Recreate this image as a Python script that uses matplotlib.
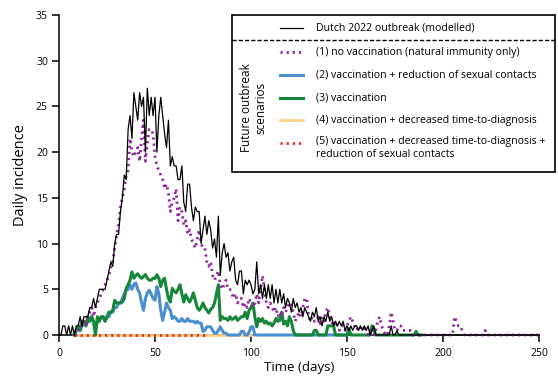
import matplotlib
matplotlib.use('Agg')
import matplotlib.pyplot as plt
from matplotlib.lines import Line2D
from matplotlib.patches import Rectangle
import numpy as np

plt.rcParams['font.family'] = ['Open Sans', 'DejaVu Sans']

# ---------------- data (daily incidence) ----------------
# Dutch 2022 outbreak (modelled), day 0 .. 250
dutch_start = 0
dutch_vals = [
    0, 0, 1, 1, 0, 1, 0, 1, 0, 1,
    1, 2, 1, 2, 2, 2, 3, 3, 4, 3,
    4, 5, 5, 5, 5, 6, 7, 8, 7.5, 10,
    11, 11, 13.5, 15, 17.5, 17, 22.5, 24, 21.5, 26.5,
    25, 23.5, 26.5, 25, 26, 20, 27, 24, 26, 24,
    26, 20, 24, 26, 24, 22, 20.5, 23.5, 18.5, 19.5,
    18.5, 18.5, 17, 17, 18.5, 14.5, 13.5, 16.5, 16.5, 14,
    12.5, 14, 13.5, 13.5, 10, 11.5, 13, 11, 12.5, 11.5,
    9.5, 10.5, 8.5, 13, 6.5, 9, 10, 8.5, 9, 7,
    8, 8.5, 6, 5.5, 7, 7, 4.5, 6, 5.5, 6,
    5.5, 4.5, 5, 8, 4.5, 5.5, 4, 5.5, 4, 5.5,
    4, 5.5, 3.5, 5, 3.5, 5, 3.5, 4.5, 3, 4,
    3.5, 2.5, 4, 3, 3.5, 2.5, 3, 2, 3, 2.5,
    2, 1.5, 2.5, 2, 3, 1.5, 2, 1, 2, 1.5,
    2.5, 1.5, 2, 1, 1.5, 1, 1.5, 1, 1.5, 0.5,
    1, 0.5, 1, 0.5, 1, 1, 0.5, 1, 0.5, 1,
    0.5, 1, 0, 0.5, 1, 0, 0, 0, 0, 0,
    0, 0, 0, 1, 0, 0, 0.5, 0, 0, 0,
] + [0] * 71

# (1) no vaccination (natural immunity only), day 8 .. 250
s1_start = 8
s1_vals = [
    0, 0,
    0.5, 1, 1, 1.5, 1, 2, 2.5, 3, 2, 3,
    3.5, 4, 4.5, 5, 5.5, 6, 6.5, 7.5, 8, 9.5,
    11, 12, 14, 15, 16, 17.5, 18, 21.5, 20, 19.5,
    20, 20.5, 19, 21.5, 23.5, 19, 21, 22.5, 22.5, 22,
    19.5, 18.5, 18, 17.5, 17, 16, 16.5, 15.5, 13.5, 14.5,
    15, 16, 12.5, 14, 13.5, 12, 12.5, 11, 11.5, 10.5,
    10, 9.5, 10.5, 11.5, 10, 9.5, 9.5, 8, 7.5, 8,
    6.5, 6, 6.5, 7, 5.5, 5, 5.5, 6, 5, 5,
    4.5, 4, 4.5, 3.5, 4, 4, 3, 3.5, 3, 4,
    3.5, 3, 3.5, 4.5, 3.5, 5, 6.5, 5, 3.5, 3,
    3.5, 3, 2.5, 3, 2, 2.5, 2, 3, 2.5, 3,
    3.5, 3.5, 2.5, 1.5, 2, 2.5, 2, 3, 4, 4,
    2, 1.5, 2, 1.5, 1.5, 2, 1, 2, 1.5, 2.5,
    3, 2, 1.5, 1, 1.5, 1, 0.5, 1, 1, 0.5,
    1, 1.5, 2, 1.5, 1, 0.5, 1, 0.5, 0.5, 1,
    0.5, 0, 0.5, 0.5, 0, 0.5, 1.5, 2, 1, 0.5,
    0, 0, 1, 2.5, 1.5, 0.5, 0.5, 1, 1, 0.5,
    0.5, 0.5, 0.5, 0.5, 0, 0, 0, 0, 0, 0,
    0, 0, 0, 0, 0, 0, 0, 0, 0, 0,
    0, 0, 0, 0, 0, 0, 2, 1.5, 1, 1,
    0.5, 0, 0, 0, 0, 0, 0, 0, 0, 0,
    0, 0, 0.5, 0, 0, 0, 0, 0, 0, 0,
] + [0] * 21

# (2) vaccination + reduction of sexual contacts, day 8 .. 150
s2_start = 8
s2_vals = [
    0, 0.5,
    1, 0.5, 1, 1.5, 1, 1.5, 1.5, 2, 1.5, 0.5,
    1.5, 1.5, 2, 2, 1.5, 2, 2, 2.5, 2.5, 3,
    3, 3.5, 3.5, 4, 4.5, 4.9, 5, 5.5, 5, 5.5,
    5.7, 5, 4.6, 3.5, 2.7, 4, 4.6, 4.9, 4.5, 4,
    3.8, 5.3, 4.5, 2.7, 1.6, 2.5, 3.5, 3, 2.7, 1.8,
    2, 1.8, 1.5, 1.5, 1.8, 1.5, 1.5, 1.8, 1.5, 1.5,
    1.5, 1.3, 1.5, 1.3, 1.3, 0.4, 0.5, 0.9, 0.9, 0.9,
    0.5, 0.2, 0.2, 0.5, 0.9, 0.5, 0.2, 0.2, 0, 0,
    0, 0, 0, 0, 0, 0.4, 0.4, 0, 0, 0.3,
    0.9, 0.9, 0, 0, 0, 0, 0, 0, 0, 0,
] + [0] * 41

# (3) vaccination, day 8 .. 190
s3_start = 8
s3_vals = [
    0, 0.5,
    1, 0.5, 1.5, 1.5, 1, 2, 1.5, 2, 1.5, 0,
    2, 1.5, 2, 2, 1.5, 2, 2.5, 2.5, 2.7, 3.8,
    3.5, 3.5, 3.5, 3.6, 4, 5.1, 5.5, 6, 6.9, 6.2,
    6.5, 6.7, 6.4, 6.2, 6.4, 6.6, 6.2, 6, 6, 6.2,
    6.2, 6.6, 6.2, 5.3, 6, 6.2, 5, 4, 3.6, 5.1,
    4.8, 4.6, 5, 5.5, 4.5, 3.6, 4.4, 4, 3.6, 4,
    4.6, 3.8, 3, 2.7, 3, 3.5, 3, 2.7, 2.4, 2.8,
    3, 3.5, 4.5, 5.5, 1.6, 2, 1.8, 1.8, 1.6, 2,
    1.7, 1.8, 2, 1.6, 1.8, 2, 2, 2.5, 1.8, 2.7,
    3, 3.5, 2, 0.9, 1.8, 1.5, 1.8, 1.3, 1.5, 1.2,
    1.3, 1, 1.3, 1.8, 1.5, 1.6, 2.5, 1.2, 1.5, 1,
    2, 1.5, 0.5, 0, 0, 0, 0, 0, 0, 0,
    0, 0, 0, 0.5, 0.5, 0, 0, 0, 0, 0,
    1, 1, 1, 1, 0, 0, 0, 0, 0, 0,
    0, 0.7, 0, 0, 0, 0, 0, 0, 0, 0,
    0, 0, 0, 1, 0.5, 0, 0, 0, 0, 0,
    0, 0, 0, 0, 0, 0, 0, 0, 0, 0,
    0, 0, 0, 0, 0, 0, 0.4, 0, 0, 0,
]

# (4) vaccination + decreased time-to-diagnosis, day 8 .. 100
s4_start = 8
s4_vals = [0] * 93

# (5) vaccination + decreased time-to-diagnosis + reduction of sexual contacts, day 8 .. 76
s5_start = 8
s5_vals = [0] * 69

legend_labels = [
    'Dutch 2022 outbreak (modelled)',
    '(1) no vaccination (natural immunity only)',
    '(2) vaccination + reduction of sexual contacts',
    '(3) vaccination',
    '(4) vaccination + decreased time-to-diagnosis',
    '(5) vaccination + decreased time-to-diagnosis +\nreduction of sexual contacts',
]

c_black = 'black'
c_purple = '#8e2a9b'
c_blue = '#4a8fd1'
c_green = '#16873a'
c_yellow = '#fbd08a'
c_red = '#ee2a1c'

purple_ls = (0, (0.8, 1.4))
red_ls = (0, (0.8, 1.4))


def days(start, vals):
    return np.arange(start, start + len(vals))


fig = plt.figure(figsize=(5.58, 3.81), dpi=100)
ax = fig.add_axes([59 / 558, 1 - 335 / 381, 480 / 558, 320 / 381])

ax.plot(days(s4_start, s4_vals), s4_vals, color=c_yellow, lw=2.0, zorder=3, clip_on=False)
ax.plot(days(s5_start, s5_vals), s5_vals, color=c_red, lw=2.0, ls=red_ls, zorder=3.1, clip_on=False)
ax.plot(days(s2_start, s2_vals), s2_vals, color=c_blue, lw=2.2, zorder=3.2, clip_on=False)
ax.plot(days(s3_start, s3_vals), s3_vals, color=c_green, lw=2.2, zorder=3.3, clip_on=False)
ax.plot(days(s1_start, s1_vals), s1_vals, color=c_purple, lw=2.0, ls=purple_ls, zorder=3.4, clip_on=False)
ax.plot(days(dutch_start, dutch_vals), dutch_vals, color=c_black, lw=0.9, zorder=3.5, clip_on=False)

ax.set_xlim(0, 250)
ax.set_ylim(0, 35)
ax.set_xticks([0, 50, 100, 150, 200, 250])
ax.set_yticks([0, 5, 10, 15, 20, 25, 30, 35])
ax.spines['top'].set_visible(False)
ax.spines['right'].set_visible(False)
ax.spines['left'].set_linewidth(1.1)
ax.spines['bottom'].set_linewidth(1.1)
ax.tick_params(axis='both', direction='out', length=5, width=1.1, labelsize=7.5, colors='black')
ax.tick_params(axis='y', pad=3)
ax.tick_params(axis='x', pad=4)
ax.set_xlabel('Time (days)', fontsize=9.5, labelpad=2)
ax.set_ylabel('Daily incidence', fontsize=10.5, labelpad=6)

# ---------------- custom legend box (figure pixels) ----------------
W, H = 558, 381


def fx(px):
    return px / W


def fy(py):
    return 1 - py / H


fig.patches.append(Rectangle((fx(232), fy(172)), fx(555) - fx(232), fy(15) - fy(172),
                             transform=fig.transFigure, fill=True, facecolor='white',
                             edgecolor='black', lw=1.2, zorder=10))
fig.lines.append(Line2D([fx(232), fx(555)], [fy(40), fy(40)], transform=fig.transFigure,
                        color='black', lw=1.0, ls=(0, (3, 1.5)), zorder=11))

handle_styles = [
    dict(color=c_black, lw=0.9),
    dict(color=c_purple, lw=2.0, ls=purple_ls),
    dict(color=c_blue, lw=2.2),
    dict(color=c_green, lw=2.2),
    dict(color=c_yellow, lw=2.0),
    dict(color=c_red, lw=2.0, ls=red_ls),
]
row_y = [28, 52, 75, 98, 120, 143]
for lab, st, yy in zip(legend_labels, handle_styles, row_y):
    fig.lines.append(Line2D([fx(280), fx(303)], [fy(yy), fy(yy)], transform=fig.transFigure,
                            zorder=11, **st))
    if '\n' in lab:
        fig.text(fx(316), fy(yy - 7), lab, fontsize=7.6, va='top', ha='left', zorder=12,
                 linespacing=1.2)
    else:
        fig.text(fx(316), fy(yy), lab, fontsize=7.6, va='center', ha='left', zorder=12)

fig.text(fx(254), fy(108), 'Future outbreak\nscenarios', rotation=90, fontsize=8.5,
         ha='center', va='center', multialignment='center', linespacing=1.1, zorder=12)

fig.savefig('out.png', dpi=100)
